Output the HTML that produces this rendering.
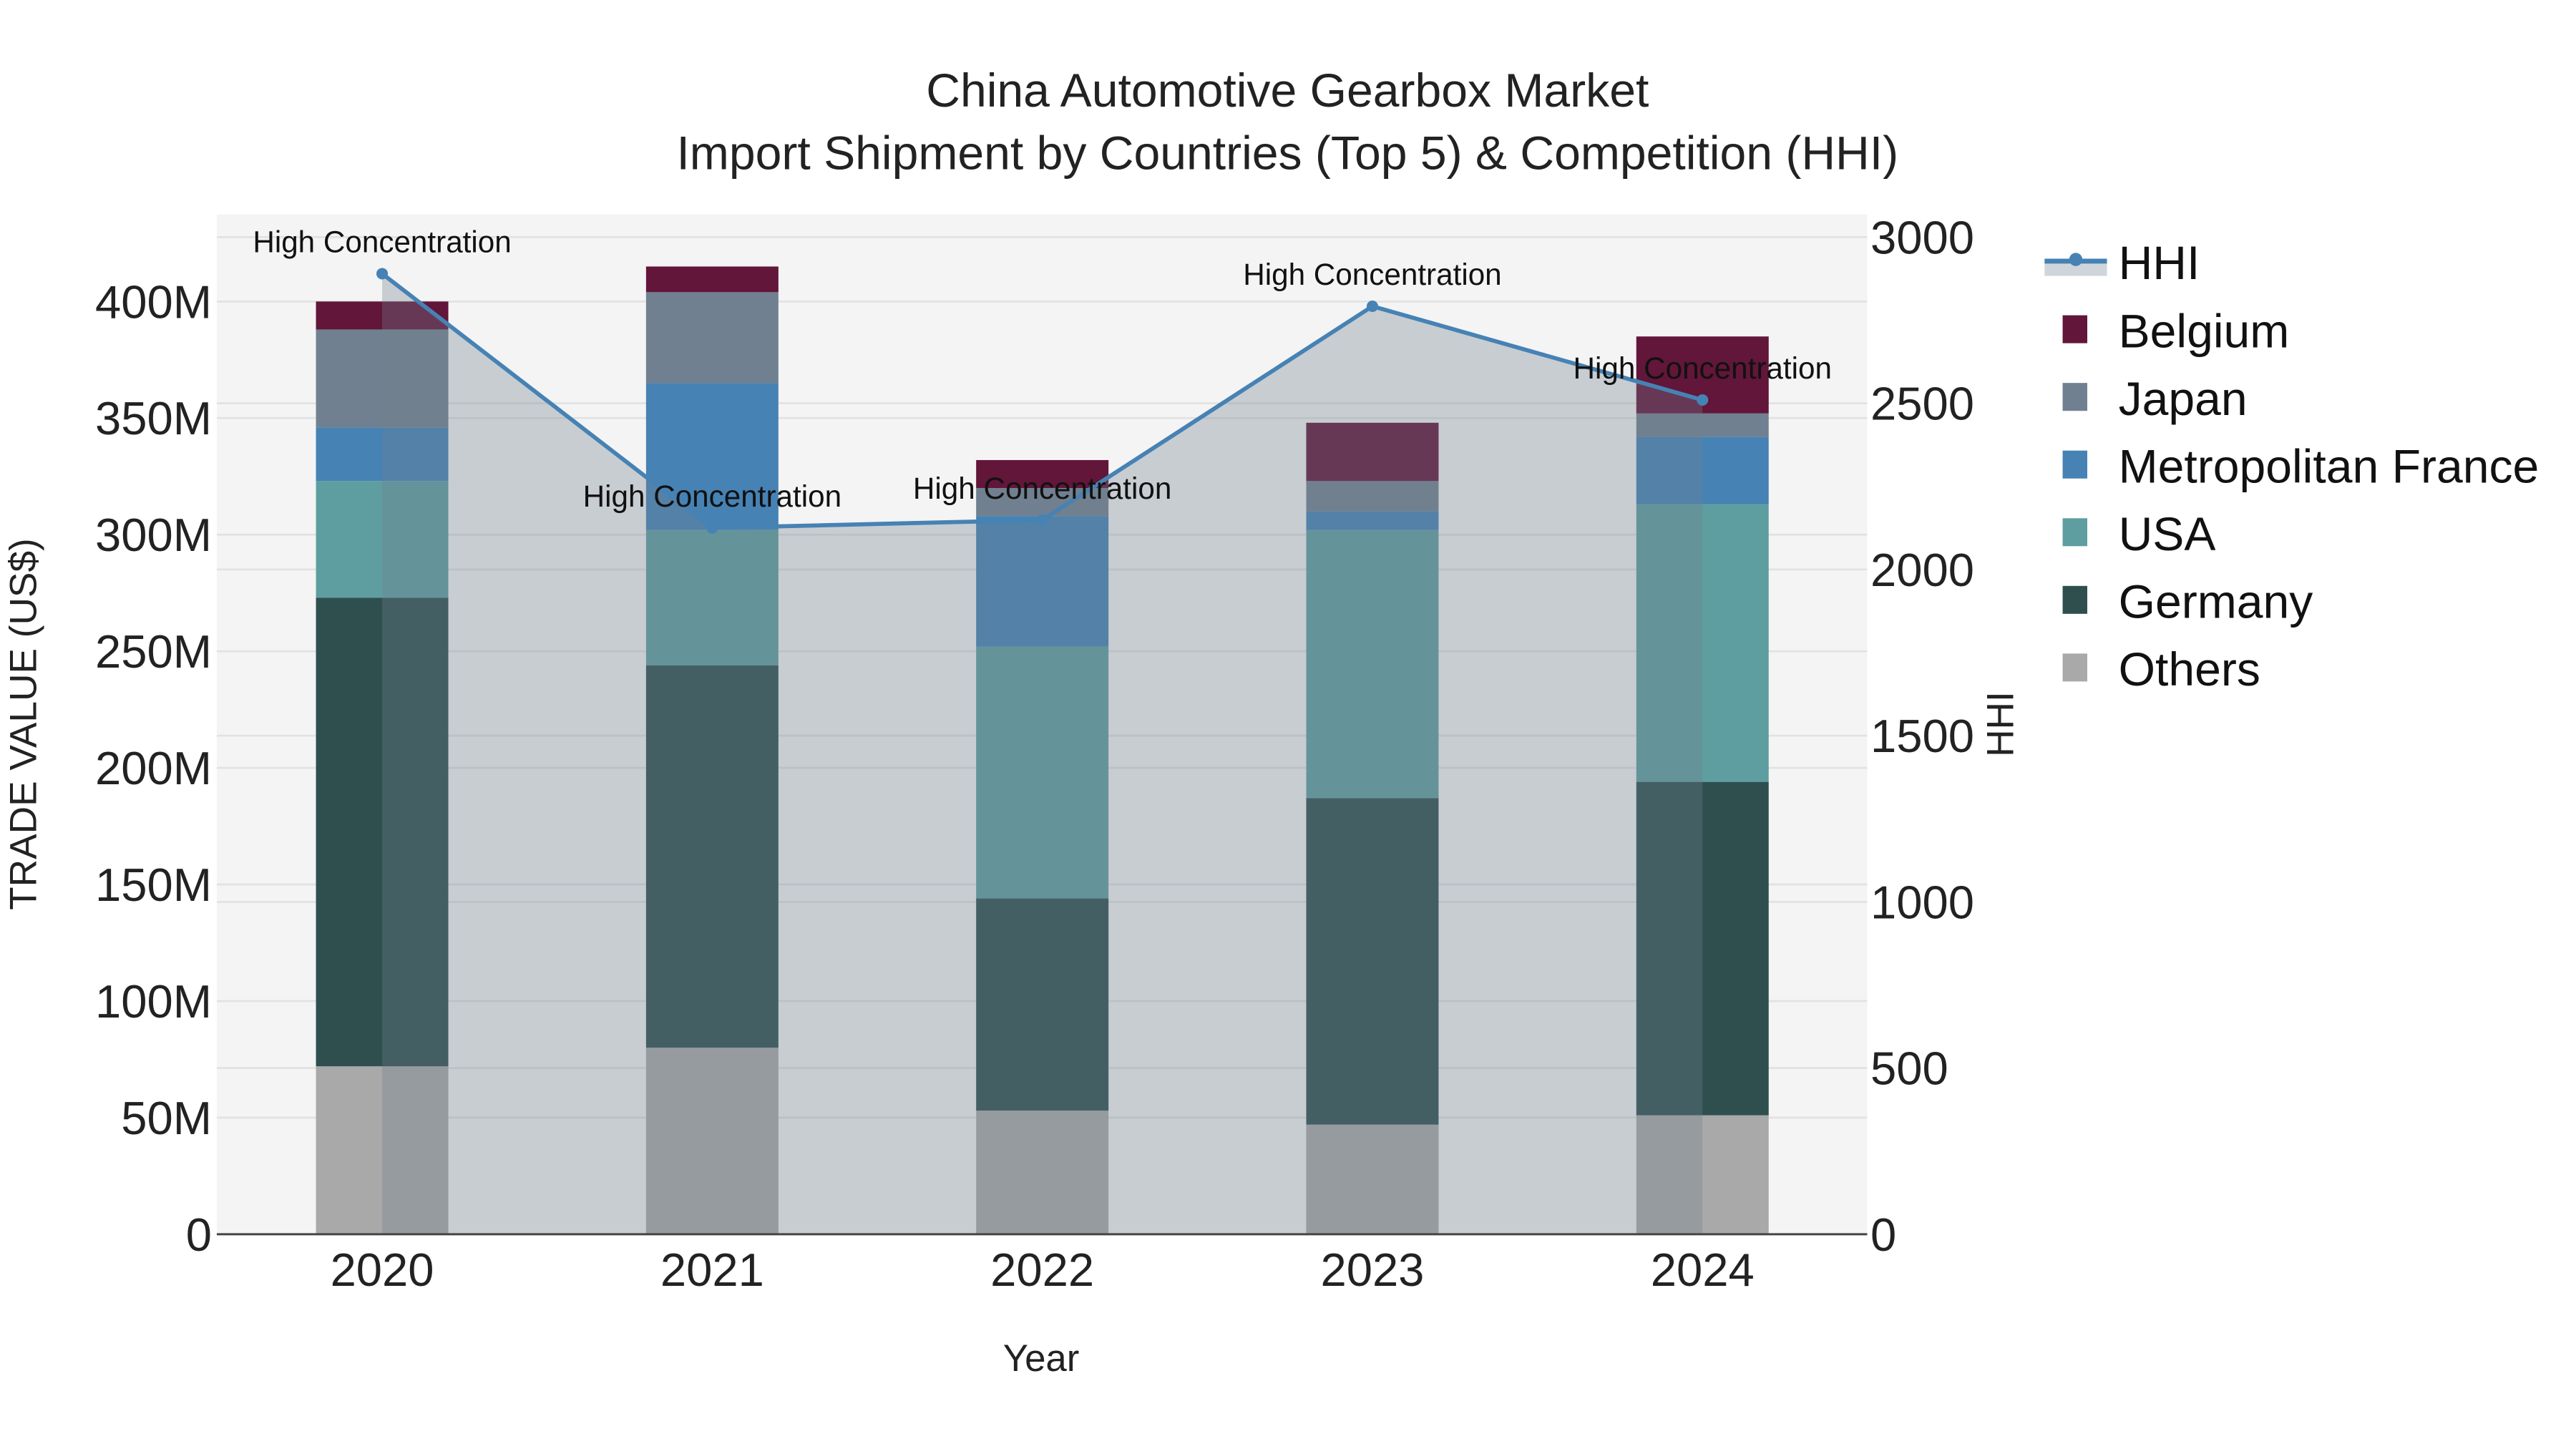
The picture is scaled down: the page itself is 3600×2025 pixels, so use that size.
<!DOCTYPE html>
<html><head><meta charset="utf-8"><style>
html,body{margin:0;padding:0;background:#fff;}
svg{display:block;font-family:"Liberation Sans",Arial,sans-serif;}
</style></head><body>
<svg id="chart" width="3600" height="2025" viewBox="0 0 1568.6 882.4" preserveAspectRatio="none" xmlns="http://www.w3.org/2000/svg">
<rect x="0" y="0" width="1568.6" height="882.4" fill="#fff"/>
<rect x="132" y="130.5" width="1005" height="621" fill="#f4f4f4"/>
<g id="grid"></g>
<g id="bars"></g>
<g id="area"></g>
<g id="axes"></g>
<text x="784" y="65" text-anchor="middle" font-size="28.8" fill="#222">China Automotive Gearbox Market</text>
<text x="784" y="103" text-anchor="middle" font-size="28.8" fill="#222">Import Shipment by Countries (Top 5) &amp; Competition (HHI)</text>
<text x="634" y="835" text-anchor="middle" font-size="23" fill="#222">Year</text>
<text transform="translate(22,441) rotate(-90)" text-anchor="middle" font-size="23.2" fill="#222">TRADE VALUE (US$)</text>
<text transform="translate(1226,441) rotate(-90)" text-anchor="middle" font-size="23.2" fill="#222">HHI</text>
<g id="legend"></g>
</svg>
<script>
const years = ["2020","2021","2022","2023","2024"];
const others = [72, 80, 53, 47, 51];
const germany = [201, 164, 91, 140, 143];
const usa = [50, 58, 108, 115, 119];
const france = [23, 63, 56, 8, 29];
const japan = [42, 39, 12, 13, 10];
const belgium = [12, 11, 12, 25, 33];
const hhi = [2890, 2125, 2149, 2792, 2510];
const leftTicks = [0, 50, 100, 150, 200, 250, 300, 350, 400];
const leftTickLabels = ["0","50M","100M","150M","200M","250M","300M","350M","400M"];
const rightTicks = [0, 500, 1000, 1500, 2000, 2500, 3000];
const annotationText = "High Concentration";

const NS = "http://www.w3.org/2000/svg";
const X0 = 132, X1 = 1137, Y0 = 751.6;
const xc = i => 232.7 + i * 201;
const yL = v => Y0 - v * 1.42;
const yR = v => Y0 - v * 0.2024;
function mk(tag, attrs, parent) {
  const e = document.createElementNS(NS, tag);
  for (const k in attrs) e.setAttribute(k, attrs[k]);
  parent.appendChild(e);
  return e;
}
const grid = document.getElementById('grid');
const bars = document.getElementById('bars');
const area = document.getElementById('area');
const axes = document.getElementById('axes');
const legend = document.getElementById('legend');

rightTicks.forEach(t => {
  if (t === 0) return;
  const l = mk('line', {x1: X0, x2: X1, y1: yR(t), y2: yR(t), stroke: '#e2e2e2', 'stroke-width': 1.2}, grid);
  
  
});
leftTicks.forEach((t, i) => {
  if (t !== 0) {
    const l = mk('line', {x1: X0, x2: X1, y1: yL(t), y2: yL(t), stroke: '#e2e2e2', 'stroke-width': 1.2}, grid);
    
    
  }
  const tx = mk('text', {x: 129, y: yL(t) + 10, 'text-anchor': 'end', 'font-size': 28.4, fill: '#222'}, axes);
  tx.textContent = leftTickLabels[i];
  
  
});
rightTicks.forEach(t => {
  const tx = mk('text', {x: 1139, y: yR(t) + 10, 'text-anchor': 'start', 'font-size': 28.4, fill: '#222'}, axes);
  tx.textContent = String(t);
  
  
});
years.forEach((y, i) => {
  const tx = mk('text', {x: xc(i), y: 783, 'text-anchor': 'middle', 'font-size': 28.4, fill: '#222'}, axes);
  tx.textContent = y;
  
  
});
const zl = mk('line', {x1: X0, x2: X1, y1: Y0, y2: Y0, stroke: '#444', 'stroke-width': 1.3}, axes);



const series = [
  {name: 'Others', vals: others, color: '#a9a9a9'},
  {name: 'Germany', vals: germany, color: '#2f4f4f'},
  {name: 'USA', vals: usa, color: '#5f9ea0'},
  {name: 'Metropolitan France', vals: france, color: '#4682b4'},
  {name: 'Japan', vals: japan, color: '#708090'},
  {name: 'Belgium', vals: belgium, color: '#621639'}
];
years.forEach((y, i) => {
  let base = 0;
  series.forEach(s => {
    const v = s.vals[i];
    const r = mk('rect', {x: xc(i) - 40.3, width: 80.6, y: yL(base + v), height: yL(base) - yL(base + v), fill: s.color}, bars);
    
    
    base += v;
  });
});

let pts = hhi.map((v, i) => xc(i) + ',' + yR(v)).join(' ');
const poly = mk('polygon', {points: xc(0) + ',' + Y0 + ' ' + pts + ' ' + xc(hhi.length - 1) + ',' + Y0, fill: 'rgba(112,128,144,0.33)'}, area);


const pl = mk('polyline', {points: pts, fill: 'none', stroke: '#4682b4', 'stroke-width': 2.5}, area);


hhi.forEach((v, i) => {
  const c = mk('circle', {cx: xc(i), cy: yR(v), r: 3.5, fill: '#4682b4'}, area);
  
  
  const t = mk('text', {x: xc(i), y: yR(v) - 13, 'text-anchor': 'middle', 'font-size': 18.4, fill: '#111'}, area);
  t.textContent = annotationText;
  
  
});

const lh = mk('g', {}, legend);


mk('rect', {x: 1245, y: 160, width: 38, height: 8, fill: '#d0d5dc'}, lh);
mk('line', {x1: 1245, x2: 1283, y1: 159, y2: 159, stroke: '#4682b4', 'stroke-width': 3}, lh);
mk('circle', {cx: 1264, cy: 158, r: 4, fill: '#4682b4'}, lh);
const th = mk('text', {x: 1290, y: 170, 'font-size': 28.8, fill: '#111'}, lh);
th.textContent = 'HHI';
const legOrder = ['Belgium', 'Japan', 'Metropolitan France', 'USA', 'Germany', 'Others'];
legOrder.forEach((n, k) => {
  const s = series.find(q => q.name === n);
  const cy = 201 + k * 41.2;
  const g = mk('g', {}, legend);
  
  
  mk('rect', {x: 1256, y: cy - 9, width: 15, height: 17, fill: s.color}, g);
  const t = mk('text', {x: 1290, y: cy + 10.5, 'font-size': 28.8, fill: '#111'}, g);
  t.textContent = n;
});
</script>
</body></html>
